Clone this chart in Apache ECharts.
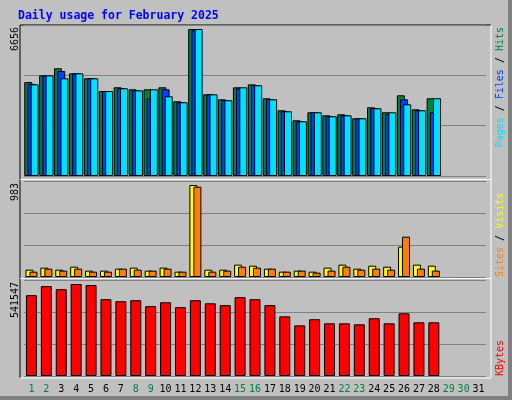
<!DOCTYPE html>
<html><head><meta charset="utf-8">
<script src="https://cdn.jsdelivr.net/npm/echarts@6/dist/echarts.min.js"></script>
<style>html,body{margin:0;padding:0;background:#c0c0c0}#c{width:512px;height:400px}</style>
</head><body><div id="c"></div>
<script>
const days = Array.from({length:31},(_,i)=>String(i+1));
const weekendDays = ['1','2','8','9','15','16','22','23','29','30'];
const hits  = [4258,4560,4880,4650,4425,3850,4018,3927,3927,4018,3384,6656,3700,3474,4018,4150,3520,2976,2523,2886,2750,2795,2614,3112,2886,3656,3021,3520];
const files = [4170,4540,4755,4650,4425,3850,3973,3880,3520,3927,3340,6600,3700,3430,3973,4110,3474,2930,2478,2886,2705,2750,2614,3067,2800,3474,2976,2886];
const pages = [4150,4560,4425,4650,4425,3850,3973,3880,3927,3610,3340,6656,3700,3430,4018,4110,3474,2930,2478,2886,2705,2750,2614,3067,2886,3248,2976,3520];
const visits= [78,100,78,110,68,68,89,100,68,100,57,983,78,78,132,121,89,57,68,57,100,132,89,121,110,324,132,121];
const sites = [57,89,68,89,57,57,89,78,68,89,57,965,57,68,110,100,89,57,68,46,68,110,78,89,78,431,89,68];
const kbytes= [475700,529000,511000,541547,535000,452000,440000,446000,411000,434000,405000,446000,428000,417000,464000,452000,417000,351000,298000,334000,310000,310000,304000,340000,310000,369000,316000,316000];
const maxLabels = ['6656','983','541547'];

const chart = echarts.init(document.getElementById('c'));
const mono = 'DejaVu Sans Mono';
const grids = [{left:24,right:26,top:25,height:151},{left:24,right:26,top:181,height:96},{left:24,right:26,top:280,height:96}];
const yMax = [6840,1026,565000];
function xAx(i){return {type:'category',gridIndex:i,data:days,axisLine:{show:false},axisTick:{show:false},
  axisLabel:{show:i===2,fontFamily:mono,fontSize:10,margin:8,interval:0,
   color:(v)=>weekendDays.includes(v)?'#008040':'#000'}};}
function yAx(i){return {type:'value',gridIndex:i,min:0,max:yMax[i],interval:yMax[i]/3,axisLabel:{show:false},axisLine:{show:false},axisTick:{show:false},
  splitLine:{lineStyle:{color:'#808080',width:1}}};}
function bar(name,data,color,gi,w,gap){return {name,type:'bar',xAxisIndex:gi,yAxisIndex:gi,data,barWidth:w,barGap:gap,
  itemStyle:{color,borderColor:'#000',borderWidth:1},animation:false,silent:true};}
const lbl=(x,y,align,rich,text)=>({type:'text',x,y,rotation:Math.PI/2,style:{text,align,verticalAlign:'middle',font:'10px '+mono,rich}});
chart.setOption({
  backgroundColor:'#c0c0c0',animation:false,
  grid:grids,
  xAxis:[xAx(0),xAx(1),xAx(2)],
  yAxis:[yAx(0),yAx(1),yAx(2)],
  series:[
    bar('Hits',hits,'#008040',0,8,'-60%'),
    bar('Files',files,'#0040ff',0,8,'-60%'),
    bar('Pages',pages,'#00e0ff',0,8,'-60%'),
    bar('Visits',visits,'#ffff00',1,8,'-50%'),
    bar('Sites',sites,'#ff8000',1,8,'-50%'),
    bar('KBytes',kbytes,'#ff0000',2,11,'0%')
  ],
  graphic:[
    {type:'rect',shape:{x:508,y:0,width:4,height:400},style:{fill:'#808080'},z:-1},
    {type:'rect',shape:{x:0,y:396,width:512,height:4},style:{fill:'#808080'},z:-1},
    {type:'line',shape:{x1:20,y1:25,x2:491,y2:25},style:{stroke:'#000'}},
    {type:'line',shape:{x1:20,y1:25,x2:20,y2:378},style:{stroke:'#000'}},
    {type:'line',shape:{x1:491,y1:25,x2:491,y2:378},style:{stroke:'#fff'}},
    {type:'line',shape:{x1:20,y1:378,x2:491,y2:378},style:{stroke:'#fff'}},
    {type:'line',shape:{x1:20,y1:179.5,x2:491,y2:179.5},style:{stroke:'#fff'}},
    {type:'line',shape:{x1:20,y1:278.5,x2:491,y2:278.5},style:{stroke:'#fff'}},
    {type:'text',x:18,y:10,style:{text:'Daily usage for February 2025',font:'bold 11.5px '+mono,fill:'#0000ff'}},
    lbl(15,27,'right',{},maxLabels[0]),
    lbl(15,183,'right',{},maxLabels[1]),
    lbl(15,282,'right',{},maxLabels[2]),
    lbl(500,27,'right',{p:{fill:'#00e0ff'},f:{fill:'#0040ff'},h:{fill:'#008040'},k:{fill:'#000'}},'{p|Pages}{k| / }{f|Files}{k| / }{h|Hits}'),
    lbl(500,277,'left',{s:{fill:'#ff8000'},v:{fill:'#ffff00'},k:{fill:'#000'}},'{s|Sites}{k| / }{v|Visits}'),
    lbl(500,376,'left',{r:{fill:'#ff0000'}},'{r|KBytes}')
  ]
});
</script></body></html>
